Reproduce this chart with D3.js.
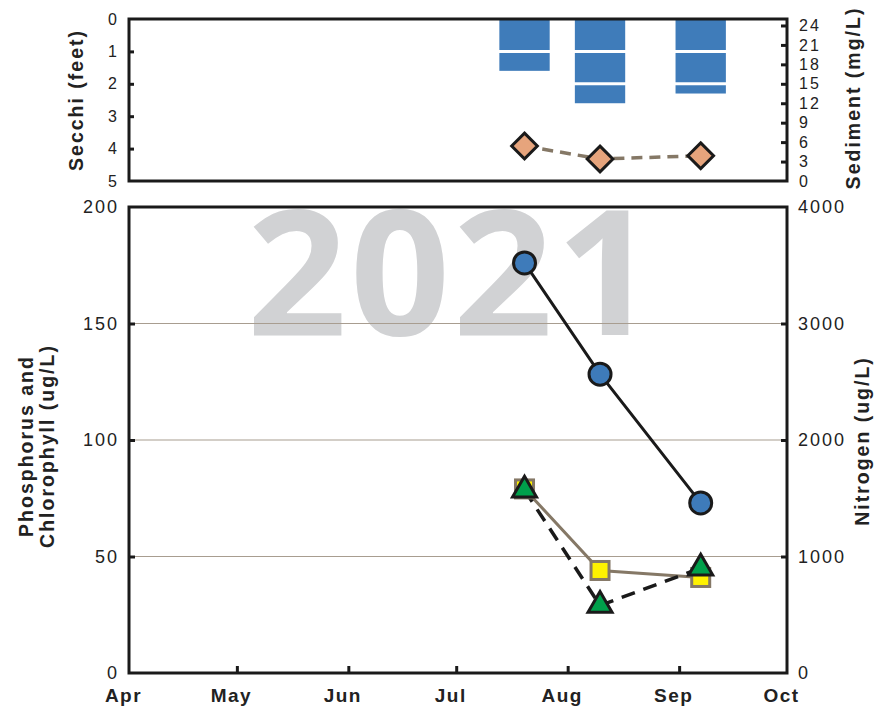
<!DOCTYPE html>
<html>
<head>
<meta charset="utf-8">
<script src="https://cdn.jsdelivr.net/npm/d3@7"></script>
<style>
  body { margin: 0; background: #fff; }
  svg { display: block; font-family: "Liberation Sans", Arial, sans-serif; }
</style>
</head>
<body>
<svg id="chart" width="886" height="712"></svg>
<script>
// sample data
const sampleDates = ['2021-07-20', '2021-08-10', '2021-09-07'];
const secchiFeet = [1.6, 2.6, 2.3];
const sedimentMgL = [5.4, 3.4, 3.9];
const phosphorusUgL = [79, 44, 41];
const chlorophyllUgL = [78.5, 29, 45];
const nitrogenUgL = [3520, 2565, 1460];

const monthLabels = ['Apr', 'May', 'Jun', 'Jul', 'Aug', 'Sep', 'Oct'];
const secchiTicks = [0, 1, 2, 3, 4, 5];
const sedimentTicks = [0, 3, 6, 9, 12, 15, 18, 21, 24];
const leftTicks = [0, 50, 100, 150, 200];
const nitrogenTicks = [0, 1000, 2000, 3000, 4000];
const yearLabel = '2021';

const parseDate = d3.timeParse('%Y-%m-%d');
const dates = sampleDates.map(parseDate);

const svg = d3.select('#chart');
const left = 129, right = 787;
const top1 = 19, bottom1 = 181; // secchi panel
const top2 = 207, bottom2 = 673; // main panel
const axisColor = '#1a1a1a';

const x = d3.scaleTime()
  .domain([parseDate('2021-04-01'), parseDate('2021-10-01')])
  .range([left, right]);

const ySecchi = d3.scaleLinear().domain([0, 5]).range([top1, bottom1]);
const ySediment = d3.scaleLinear().domain([0, 25]).range([bottom1, top1]);
const yLeft = d3.scaleLinear().domain([0, 200]).range([bottom2, top2]);
const yNitrogen = d3.scaleLinear().domain([0, 4000]).range([bottom2, top2]);

function styleAxis(size, spacing) {
  return g => {
    g.select('.domain').remove();
    g.selectAll('.tick line').attr('stroke', axisColor).attr('stroke-width', 3);
    g.selectAll('.tick text')
      .attr('fill', '#222')
      .style('font-size', size + 'px')
      .style('letter-spacing', spacing + 'px');
  };
}

// ---- top panel: secchi bars + sediment ----
const barHalf = (x(d3.timeDay.offset(dates[0], 7)) - x(dates[0]));
svg.append('g')
  .selectAll('rect')
  .data(dates)
  .join('rect')
  .attr('x', d => x(d) - barHalf)
  .attr('y', ySecchi(0))
  .attr('width', barHalf * 2)
  .attr('height', (d, i) => ySecchi(secchiFeet[i]) - ySecchi(0))
  .attr('fill', '#3f7cba');

// white foot lines cut across the bars
svg.append('g')
  .selectAll('line')
  .data(secchiTicks.slice(1, -1))
  .join('line')
  .attr('x1', left).attr('x2', right)
  .attr('y1', d => ySecchi(d)).attr('y2', d => ySecchi(d))
  .attr('stroke', '#fff')
  .attr('stroke-width', 3);

svg.append('path')
  .datum(dates)
  .attr('fill', 'none')
  .attr('stroke', '#857866')
  .attr('stroke-width', 3.5)
  .attr('stroke-dasharray', '11,7')
  .attr('d', d3.line().x(d => x(d)).y((d, i) => ySediment(sedimentMgL[i])));

svg.append('g')
  .selectAll('path')
  .data(dates)
  .join('path')
  .attr('d', d3.symbol(d3.symbolDiamond2, 420))
  .attr('transform', (d, i) => `translate(${x(d)},${ySediment(sedimentMgL[i])})`)
  .attr('fill', '#e6a47c')
  .attr('stroke', axisColor)
  .attr('stroke-width', 3)
  .attr('stroke-linejoin', 'miter');

svg.append('g')
  .attr('transform', `translate(${left},0)`)
  .call(d3.axisLeft(ySecchi).tickValues(secchiTicks).tickSize(-5).tickPadding(10).tickFormat(d3.format('d')))
  .call(styleAxis(16, 2))
  .call(g => g.selectAll('.tick line').filter(d => d === 0 || d === 5).remove());

svg.append('g')
  .attr('transform', `translate(${right},0)`)
  .call(d3.axisRight(ySediment).tickValues(sedimentTicks).tickSize(-6).tickPadding(12).tickFormat(d3.format('d')))
  .call(styleAxis(16, 2))
  .call(g => g.selectAll('.tick line').filter(d => d === 0).remove());

svg.append('rect')
  .attr('x', left).attr('y', top1)
  .attr('width', right - left).attr('height', bottom1 - top1)
  .attr('fill', 'none').attr('stroke', axisColor).attr('stroke-width', 3);

// ---- main panel ----
svg.append('text')
  .attr('x', 453)
  .attr('y', 335)
  .attr('text-anchor', 'middle')
  .attr('fill', '#d1d2d4')
  .style('font-family', '"Open Sans", sans-serif')
  .style('font-weight', 700)
  .style('font-size', '175px')
  .style('letter-spacing', '3px')
  .text(yearLabel);

svg.append('g')
  .selectAll('line')
  .data(leftTicks.slice(1, -1))
  .join('line')
  .attr('x1', left).attr('x2', right)
  .attr('y1', d => yLeft(d)).attr('y2', d => yLeft(d))
  .attr('stroke', '#a89d90')
  .attr('stroke-width', 1.2);

// phosphorus (left axis)
svg.append('path')
  .datum(dates)
  .attr('fill', 'none')
  .attr('stroke', '#857866')
  .attr('stroke-width', 3)
  .attr('d', d3.line().x(d => x(d)).y((d, i) => yLeft(phosphorusUgL[i])));

// chlorophyll (left axis)
svg.append('path')
  .datum(dates)
  .attr('fill', 'none')
  .attr('stroke', axisColor)
  .attr('stroke-width', 3.5)
  .attr('stroke-dasharray', '14,9')
  .attr('d', d3.line().x(d => x(d)).y((d, i) => yLeft(chlorophyllUgL[i])));

// nitrogen (right axis)
svg.append('path')
  .datum(dates)
  .attr('fill', 'none')
  .attr('stroke', axisColor)
  .attr('stroke-width', 3)
  .attr('d', d3.line().x(d => x(d)).y((d, i) => yNitrogen(nitrogenUgL[i])));

svg.append('g')
  .selectAll('rect')
  .data(dates)
  .join('rect')
  .attr('x', d => x(d) - 9)
  .attr('y', (d, i) => yLeft(phosphorusUgL[i]) - 9)
  .attr('width', 18).attr('height', 18)
  .attr('fill', '#fff200')
  .attr('stroke', '#857866')
  .attr('stroke-width', 3);

svg.append('g')
  .selectAll('path')
  .data(dates)
  .join('path')
  .attr('d', d3.symbol(d3.symbolTriangle, 250))
  .attr('transform', (d, i) => `translate(${x(d)},${yLeft(chlorophyllUgL[i])})`)
  .attr('fill', '#00a04b')
  .attr('stroke', axisColor)
  .attr('stroke-width', 3)
  .attr('stroke-linejoin', 'miter');

svg.append('g')
  .selectAll('circle')
  .data(dates)
  .join('circle')
  .attr('cx', d => x(d))
  .attr('cy', (d, i) => yNitrogen(nitrogenUgL[i]))
  .attr('r', 11)
  .attr('fill', '#3e7bba')
  .attr('stroke', axisColor)
  .attr('stroke-width', 3);

svg.append('g')
  .attr('transform', `translate(${left},0)`)
  .call(d3.axisLeft(yLeft).tickValues(leftTicks).tickSize(-6).tickPadding(10))
  .call(styleAxis(18, 2))
  .call(g => g.selectAll('.tick line').filter(d => d === 0 || d === 200).remove());

svg.append('g')
  .attr('transform', `translate(${right},0)`)
  .call(d3.axisRight(yNitrogen).tickValues(nitrogenTicks).tickSize(-6).tickPadding(11).tickFormat(d3.format('d')))
  .call(styleAxis(18, 2))
  .call(g => g.selectAll('.tick line').filter(d => d === 0 || d === 4000).remove());

svg.append('g')
  .attr('transform', `translate(0,${bottom2})`)
  .call(d3.axisBottom(x).ticks(d3.timeMonth.every(1)).tickSize(-7).tickPadding(16)
    .tickFormat((d, i) => monthLabels[i]))
  .call(styleAxis(19, 1.5))
  .call(g => g.selectAll('.tick line').filter((d, i) => i === 0 || i === monthLabels.length - 1).remove())
  .call(g => g.selectAll('.tick text')
    .attr('dx', -6)
    .style('font-weight', 700));

svg.append('rect')
  .attr('x', left).attr('y', top2)
  .attr('width', right - left).attr('height', bottom2 - top2)
  .attr('fill', 'none').attr('stroke', axisColor).attr('stroke-width', 3);

// ---- axis titles ----
function title(xc, yc, lines) {
  const t = svg.append('text')
    .attr('transform', `translate(${xc},${yc}) rotate(-90)`)
    .attr('text-anchor', 'middle')
    .attr('fill', '#222')
    .style('font-weight', 700)
    .style('font-size', '19.5px')
    .style('letter-spacing', '2px');
  lines.forEach((s, i) => {
    t.append('tspan').attr('x', 0).attr('y', i * 21).text(s);
  });
}

title(83, 100, ['Secchi (feet)']);
title(860, 98, ['Sediment (mg/L)']);
title(33, 446, ['Phosphorus and', 'Chlorophyll (ug/L)']);
title(869, 441, ['Nitrogen (ug/L)']);
</script>
</body>
</html>
